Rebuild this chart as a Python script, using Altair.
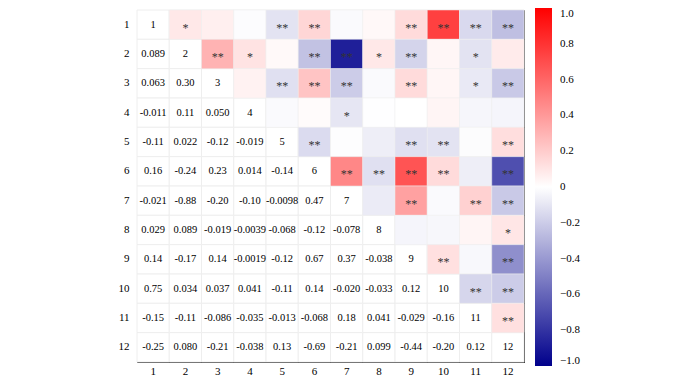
import altair as alt
import pandas as pd

names = [str(i) for i in range(1, 13)]

# lower-triangle correlation labels (row i, columns 1..i-1)
lower_labels = [
    [],
    ["0.089"],
    ["0.063", "0.30"],
    ["-0.011", "0.11", "0.050"],
    ["-0.11", "0.022", "-0.12", "-0.019"],
    ["0.16", "-0.24", "0.23", "0.014", "-0.14"],
    ["-0.021", "-0.88", "-0.20", "-0.10", "-0.0098", "0.47"],
    ["0.029", "0.089", "-0.019", "-0.0039", "-0.068", "-0.12", "-0.078"],
    ["0.14", "-0.17", "0.14", "-0.0019", "-0.12", "0.67", "0.37", "-0.038"],
    ["0.75", "0.034", "0.037", "0.041", "-0.11", "0.14", "-0.020", "-0.033", "0.12"],
    ["-0.15", "-0.11", "-0.086", "-0.035", "-0.013", "-0.068", "0.18", "0.041", "-0.029", "-0.16"],
    ["-0.25", "0.080", "-0.21", "-0.038", "0.13", "-0.69", "-0.21", "0.099", "-0.44", "-0.20", "0.12"],
]

# upper-triangle significance marks (row i, columns i+1..12)
upper_stars = [
    ["*", "", "", "**", "**", "", "", "**", "**", "**", "**"],
    ["**", "*", "", "**", "**", "*", "**", "", "*", ""],
    ["", "**", "**", "**", "", "**", "", "*", "**"],
    ["", "", "*", "", "", "", "", ""],
    ["**", "", "", "**", "**", "", "**"],
    ["**", "**", "**", "**", "", "**"],
    ["", "**", "", "**", "**"],
    ["", "", "", "*"],
    ["**", "", "**"],
    ["**", "**"],
    ["**"],
    [],
]

legend_values = [1.0, 0.8, 0.6, 0.4, 0.2, 0.0, -0.2, -0.4, -0.6, -0.8, -1.0]

rows = []
for i in range(12):
    for j in range(12):
        if i == j:
            rows.append(dict(row=names[i], col=names[j], val=None, label=names[i], kind="diag"))
        elif j < i:
            rows.append(dict(row=names[i], col=names[j], val=float(lower_labels[i][j]),
                             label=lower_labels[i][j], kind="lower"))
        else:
            rows.append(dict(row=names[i], col=names[j], val=float(lower_labels[j][i]),
                             label=upper_stars[i][j - i - 1], kind="upper"))
df = pd.DataFrame(rows)

FONT = "Liberation Serif"

x_enc = alt.X("col:O", sort=names, title=None,
              axis=alt.Axis(labelAngle=0, ticks=False, domain=False, labelFont=FONT,
                            labelFontSize=11, labelColor="black", labelPadding=3))
y_enc = alt.Y("row:O", sort=names, title=None,
              axis=alt.Axis(ticks=False, domain=False, labelFont=FONT,
                            labelFontSize=11, labelColor="black", labelPadding=8))

base = alt.Chart(df).encode(x=x_enc, y=y_enc)

bg = base.mark_rect(fill="white", stroke="#eeeeee", strokeWidth=1)

colored = base.transform_filter(alt.datum.kind == "upper").mark_rect(
    stroke="#eeeeee", strokeWidth=0.5).encode(
    color=alt.Color(
        "val:Q",
        scale=alt.Scale(domain=[-1, 0, 1], range=["#00008B", "#ffffff", "#ff0000"],
                        interpolate="rgb"),
        legend=alt.Legend(
            orient="none", legendX=398, legendY=-2, direction="vertical",
            title=None, gradientLength=358, gradientThickness=17,
            gradientStrokeWidth=0, values=legend_values, labelOverlap=False,
            labelFont=FONT, labelFontSize=11, labelColor="black", labelOffset=8,
            labelBaseline="middle",
            labelExpr="datum.value == 0 ? '0' : (datum.value < 0 ? '\u2212' + format(-datum.value, '.1f') : format(datum.value, '.1f'))",
        ),
    )
)

nums = base.transform_filter(alt.datum.kind != "upper").mark_text(
    font=FONT, fontSize=10.5, color="black").encode(text="label:N")

stars = base.transform_filter(alt.datum.kind == "upper").mark_text(
    font=FONT, fontSize=12, color="#333333", dy=3).encode(text="label:N")

chart = alt.layer(bg, colored, nums, stars).properties(
    width=387, height=352,
    padding={"left": 110, "top": 0, "right": 5, "bottom": 0},
).configure_view(stroke="black", strokeWidth=1)

chart.save("out.html", embed_options={"renderer": "svg", "actions": False})
